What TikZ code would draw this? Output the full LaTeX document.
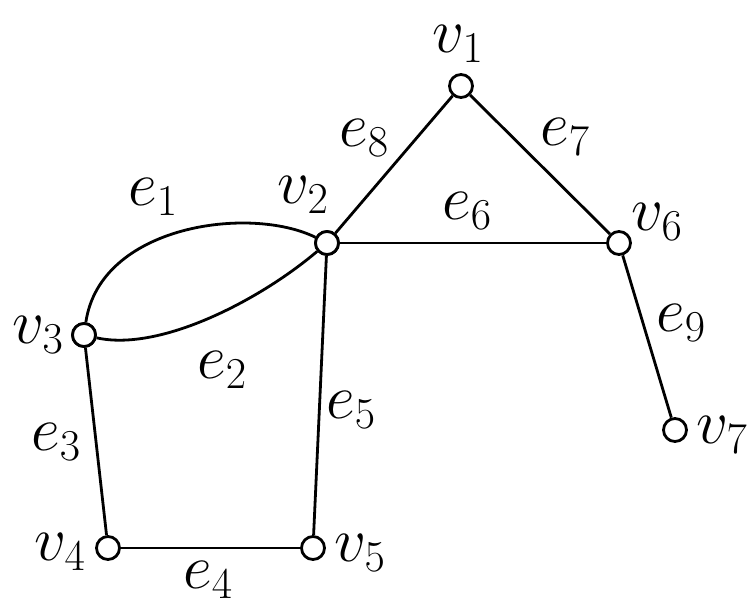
\documentclass[tikz,border=0pt]{standalone}
\usepackage{fix-cm}
\newcommand{\lbl}[2]{{\fontsize{63}{63}\selectfont$#1_{#2}$}}
\begin{document}
\begin{tikzpicture}[x=1pt,y=-1pt,
  vtx/.style={circle,draw,line width=2.8pt,minimum size=23pt,inner sep=0pt,fill=white},
  edge/.style={line width=2.8pt},
  lab/.style={inner sep=0pt,anchor=center}]
\useasboundingbox (0,0) rectangle (749,606);
\node[vtx] (v1) at (461,86) {};
\node[vtx] (v2) at (327,243) {};
\node[vtx] (v6) at (619,243) {};
\node[vtx] (v3) at (84,335) {};
\node[vtx] (v4) at (108,548) {};
\node[vtx] (v5) at (313,548) {};
\node[vtx] (v7) at (675,430) {};
\draw[edge] (v3) .. controls (100,225) and (250,205) .. (v2);
\draw[edge] (v3) .. controls (160,352) and (260,300) .. (v2);
\draw[edge] (v3) -- (v4);
\draw[edge] (v4) -- (v5);
\draw[edge] (v5) -- (v2);
\draw[edge] (v2) -- (v6);
\draw[edge] (v6) -- (v1);
\draw[edge] (v1) -- (v2);
\draw[edge] (v6) -- (v7);
\node[vtx] at (v3) {};
\node[vtx] at (v2) {};
\node[lab] (l1) at (458,44) {\lbl{v}{1}};
\node[lab] (l2) at (303,195) {\lbl{v}{2}};
\node[lab] (l6) at (657,222) {\lbl{v}{6}};
\node[lab] (l3) at (38,335) {\lbl{v}{3}};
\node[lab] (l4) at (60,552) {\lbl{v}{4}};
\node[lab] (l5) at (360,553) {\lbl{v}{5}};
\node[lab] (l7) at (722,435) {\lbl{v}{7}};
\node[lab] (m1) at (153,197) {\lbl{e}{1}};
\node[lab] (m2) at (222,370) {\lbl{e}{2}};
\node[lab] (m3) at (56,442) {\lbl{e}{3}};
\node[lab] (m4) at (208,580) {\lbl{e}{4}};
\node[lab] (m5) at (351,410) {\lbl{e}{5}};
\node[lab] (m6) at (467,211) {\lbl{e}{6}};
\node[lab] (m7) at (565,137) {\lbl{e}{7}};
\node[lab] (m8) at (364,138) {\lbl{e}{8}};
\node[lab] (m9) at (681,323) {\lbl{e}{9}};
\end{tikzpicture}
\end{document}
